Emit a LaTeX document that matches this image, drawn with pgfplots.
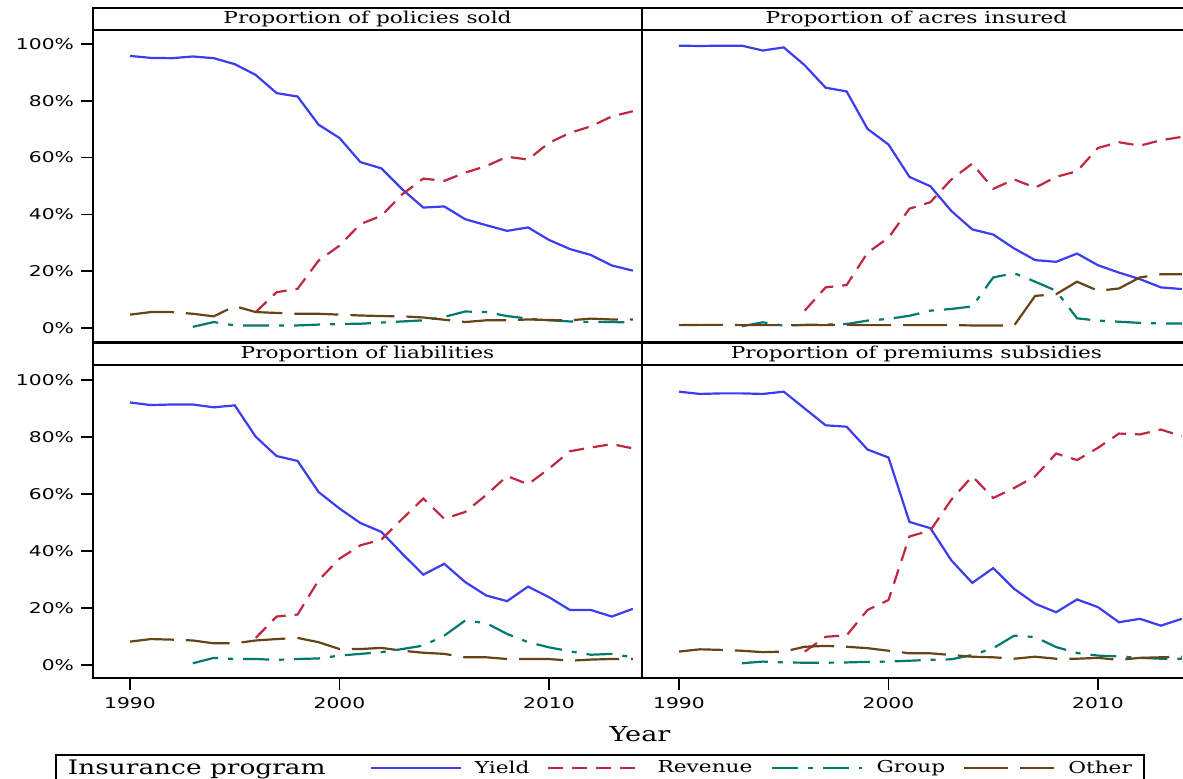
\documentclass[border=0pt]{standalone}
\usepackage{fontspec}
\setmainfont{DejaVu Serif}[FakeStretch=1.32]
\setsansfont{DejaVu Sans}[FakeStretch=1.37]
\usepackage{pgfplots}
\usepackage{pgfplotstable}
\pgfplotsset{compat=1.18}
\definecolor{cyield}{RGB}{60,60,240}
\definecolor{crev}{RGB}{192,40,64}
\definecolor{cgroup}{RGB}{1,121,111}
\definecolor{cother}{RGB}{102,68,23}

\pgfplotstableread{
year yield revenue group other
1990 95.8 nan nan 4.7
1991 95.1 nan nan 5.6
1992 95.0 nan nan 5.6
1993 95.6 nan 0.4 5.0
1994 95.0 nan 2.1 4.1
1995 92.9 nan 0.9 7.7
1996 89.1 5.6 0.9 5.6
1997 82.7 12.6 0.9 5.3
1998 81.5 13.8 0.9 5.0
1999 71.6 23.7 1.2 5.0
2000 66.9 29.0 1.4 4.7
2001 58.4 36.6 1.5 4.4
2002 56.2 39.5 1.9 4.2
2003 48.8 47.1 2.3 4.1
2004 42.4 52.6 2.7 3.7
2005 42.8 51.8 3.9 2.9
2006 38.3 54.7 5.8 2.1
2007 36.2 57.0 5.6 2.7
2008 34.2 60.3 4.2 2.7
2009 35.4 59.3 3.3 3.0
2010 31.0 65.2 2.7 2.8
2011 27.8 68.7 2.3 2.7
2012 25.7 71.0 2.1 3.3
2013 22.0 74.5 2.1 3.0
2014 20.2 76.3 1.9 3.0
}\policies

\pgfplotstableread{
year yield revenue group other
1990 99.4 nan nan 1.0
1991 99.3 nan nan 1.1
1992 99.4 nan nan 1.1
1993 99.4 nan 0.6 1.0
1994 97.7 nan 2.0 1.0
1995 98.8 nan 0.8 1.0
1996 92.5 6.1 1.1 1.0
1997 84.6 14.3 1.2 1.0
1998 83.3 15.1 1.4 1.1
1999 70.1 26.5 2.6 1.0
2000 64.6 31.8 3.2 1.0
2001 53.2 42.0 4.3 1.0
2002 49.9 44.3 6.1 1.0
2003 41.2 52.3 6.7 1.0
2004 34.7 57.9 7.6 0.9
2005 32.9 49.0 17.8 0.9
2006 28.0 52.3 19.3 0.9
2007 23.9 49.4 16.3 11.3
2008 23.3 53.2 13.1 11.9
2009 26.2 55.2 3.4 16.3
2010 22.1 63.4 2.6 13.1
2011 19.5 65.4 2.2 13.9
2012 17.2 64.2 1.8 17.8
2013 14.3 66.1 1.6 18.9
2014 13.7 67.3 1.6 18.9
}\acres

\pgfplotstableread{
year yield revenue group other
1990 92.1 nan nan 8.2
1991 91.2 nan nan 9.1
1992 91.4 nan nan 8.9
1993 91.4 nan 0.6 8.6
1994 90.4 nan 2.5 7.6
1995 91.1 nan 2.1 7.6
1996 80.1 9.5 2.1 8.6
1997 73.3 17.0 1.8 9.1
1998 71.6 17.7 2.1 9.5
1999 60.7 29.7 2.3 8.0
2000 54.9 37.3 3.3 5.6
2001 49.8 42.0 3.9 5.6
2002 46.7 44.0 4.5 6.0
2003 39.0 51.3 5.6 5.0
2004 31.7 58.4 6.8 4.3
2005 35.5 51.3 10.3 3.9
2006 29.1 53.7 15.6 2.7
2007 24.4 59.6 14.7 2.7
2008 22.4 66.3 10.9 2.1
2009 27.5 63.4 8.0 2.1
2010 23.8 68.9 6.2 2.1
2011 19.3 75.0 4.8 1.5
2012 19.3 76.3 3.6 1.9
2013 17.0 77.5 3.9 2.1
2014 19.7 76.0 2.7 2.1
}\liabilities

\pgfplotstableread{
year yield revenue group other
1990 95.9 nan nan 4.7
1991 95.1 nan nan 5.5
1992 95.3 nan nan 5.3
1993 95.3 nan 0.6 5.0
1994 95.1 nan 1.2 4.5
1995 95.9 nan 0.9 4.7
1996 90.0 4.7 0.8 6.4
1997 84.1 9.9 0.8 6.7
1998 83.6 10.4 0.9 6.4
1999 75.6 19.3 1.1 5.9
2000 72.8 22.8 1.2 5.0
2001 50.2 45.1 1.5 4.1
2002 48.0 47.2 1.8 4.1
2003 36.7 58.0 2.0 3.5
2004 28.8 66.2 3.5 2.9
2005 34.0 58.6 5.9 2.7
2006 26.7 62.1 10.3 2.2
2007 21.5 66.2 9.8 2.9
2008 18.5 74.2 6.3 2.2
2009 23.0 71.9 4.2 2.2
2010 20.3 76.2 3.3 2.5
2011 15.0 81.2 3.0 1.8
2012 16.2 80.9 2.5 2.5
2013 13.8 82.6 2.2 2.7
2014 16.2 80.3 2.2 2.9
}\premiums

\pgfplotsset{
  panel/.style={
    scale only axis, width=274.5pt,
    xmin=1988.234, xmax=2014.44,
    axis line style={line width=0.9pt},
    tick style={line width=0.8pt, black},
    tick align=outside, major tick length=6pt,
    xtick pos=bottom, ytick pos=left,
    clip=false,
    /pgf/number format/1000 sep={},
    /pgf/number format/assume math mode=true,
    ticklabel style={font=\sffamily\fontsize{7.4}{9}\selectfont},
    every axis plot/.append style={line width=1.1pt},
  },
  toprow/.style={height=156pt, ymin=-4.93, ymax=104.93, xtick=\empty},
  botrow/.style={height=156.5pt, ymin=-4.56, ymax=105.26, xtick={1990,2000,2010}},
  leftcol/.style={ytick={0,20,...,100}, yticklabel={\pgfmathprintnumber{\tick}\%}},
  rightcol/.style={ytick=\empty},
  yieldst/.style={color=cyield, solid},
  revst/.style={color=crev, dash pattern=on 7.5pt off 4.5pt},
  groupst/.style={color=cgroup, dash pattern=on 13pt off 5pt on 2.5pt off 5pt},
  otherst/.style={color=cother, dash pattern=on 22pt off 6pt},
}
\newcommand\paneltitle[1]{%
  \draw[line width=0.9pt] (rel axis cs:0,1) rectangle ([yshift=11pt]rel axis cs:1,1);
  \node[font=\fontsize{8.2}{10}\selectfont, anchor=base] at ([yshift=3pt]rel axis cs:0.5,1) {#1};
}
\newcommand\fourplots[1]{%
  \addplot[yieldst] table[x=year,y=yield]{#1};
  \addplot[revst] table[x=year,y=revenue]{#1};
  \addplot[groupst] table[x=year,y=group]{#1};
  \addplot[otherst] table[x=year,y=other]{#1};
}

\begin{document}
\begin{tikzpicture}
\useasboundingbox (0,0) rectangle (591.5pt,389.5pt);

\begin{axis}[panel, toprow, leftcol, at={(46.5pt,218.5pt)}, anchor=south west]
  \fourplots{\policies}
  \paneltitle{Proportion of policies sold}
\end{axis}

\begin{axis}[panel, toprow, rightcol, at={(321pt,218.5pt)}, anchor=south west]
  \fourplots{\acres}
  \paneltitle{Proportion of acres insured}
\end{axis}

\begin{axis}[panel, botrow, leftcol, at={(46.5pt,50.5pt)}, anchor=south west,
  legend style={at={(-0.0692,-0.2428)}, anchor=north west, draw=black,
    line width=0.9pt, legend columns=-1,
    font=\fontsize{8.2}{10}\selectfont,
    /tikz/every even column/.append style={column sep=7pt},
    inner xsep=4pt, inner ysep=0.3pt},
  legend image code/.code={\draw[#1, line width=1.1pt] (0pt,0pt) -- (45pt,0pt);}]
  \addlegendimage{empty legend}
  \fourplots{\liabilities}
  \paneltitle{Proportion of liabilities}
  \legend{{\fontsize{10}{12}\selectfont Insurance program\hspace*{13pt}},
    \hspace*{4.5pt}Yield, \hspace*{7pt}Revenue, \hspace*{5pt}Group, \hspace*{4.5pt}Other}
\end{axis}

\begin{axis}[panel, botrow, rightcol, at={(321pt,50.5pt)}, anchor=south west]
  \fourplots{\premiums}
  \paneltitle{Proportion of premiums subsidies}
\end{axis}

\node[font=\fontsize{10.3}{12}\selectfont, anchor=base] at (320pt,18.5pt) {Year};
\end{tikzpicture}
\end{document}
